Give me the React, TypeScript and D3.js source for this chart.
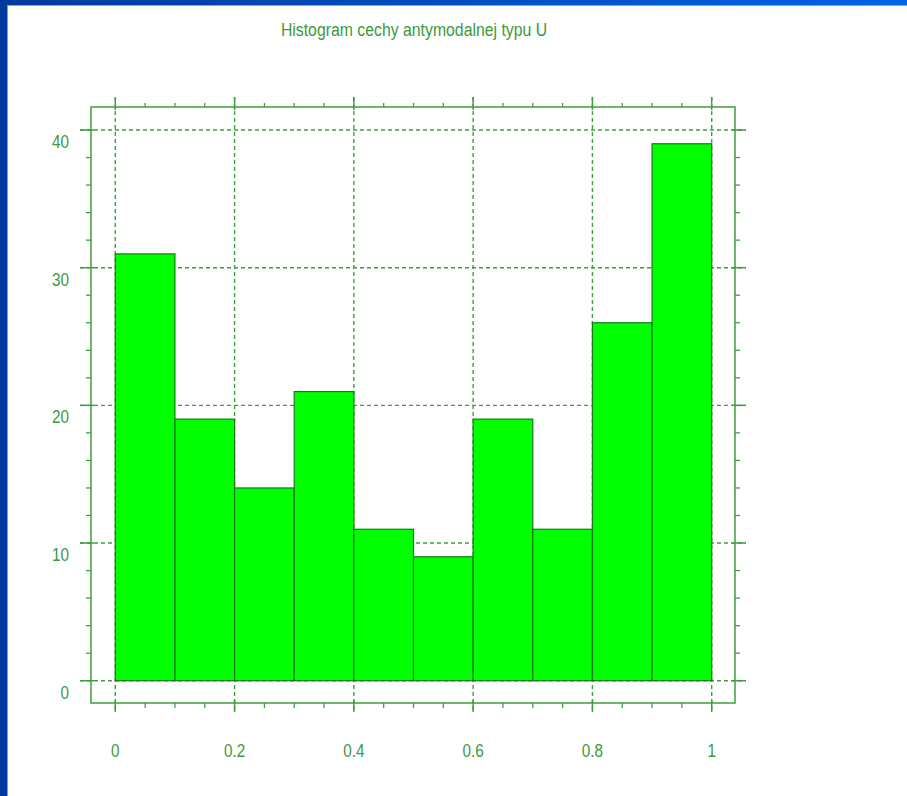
import React from "react";
import * as d3 from "d3";

const title = "Histogram cechy antymodalnej typu U";
const binEdges = [0, 0.1, 0.2, 0.3, 0.4, 0.5, 0.6, 0.7, 0.8, 0.9, 1.0];
const counts = [31, 19, 14, 21, 11, 9, 19, 11, 26, 39];
const xTicks = [0, 0.2, 0.4, 0.6, 0.8, 1];
const xTickLabels = ["0", "0.2", "0.4", "0.6", "0.8", "1"];
const yTicks = [0, 10, 20, 30, 40];
const yTickLabels = ["0", "10", "20", "30", "40"];

const W = 907;
const H = 796;
const frame = { l: 91, t: 107, r: 735, b: 703 };
const axisCol = "#3f9f3f";
const textCol = "#3c9a3c";
const font = "'Liberation Sans', Arial, sans-serif";

export default function App() {
  const x = d3.scaleLinear().domain([0, 1]).range([115.3, 711.7]);
  const y = d3.scaleLinear().domain([0, 40]).range([680.7, 130]);
  const xMinor = d3.range(0, 1.0001, 0.05);
  const yMinor = d3.range(0, 40.001, 2);
  const bins = counts.map((c, i) => ({ x0: binEdges[i], x1: binEdges[i + 1], c }));

  return (
    <div style={{ position: "fixed", left: 0, top: 0, width: W, height: H, margin: 0 }}>
      <svg width={W} height={H} style={{ display: "block" }}>
        <defs>
          <linearGradient id="topbar" x1="0" x2="1" y1="0" y2="0">
            <stop offset="0" stopColor="#003a9c" />
            <stop offset="1" stopColor="#0063e6" />
          </linearGradient>
        </defs>
        <rect x={0} y={0} width={W} height={H} fill="#ffffff" />
        <rect x={0} y={0} width={W} height={5} fill="url(#topbar)" />
        <rect x={0} y={5} width={W} height={1} fill="#7fa8e8" />
        <rect x={0} y={0} width={7} height={H} fill="#003a9c" />
        <rect x={7} y={5} width={1} height={H} fill="#7f9cd0" />

        <g transform={`translate(414,36) scale(0.93,1.05)`}>
          <text textAnchor="middle" fontFamily={font} fontSize={17} fill={textCol}>{title}</text>
        </g>

        {/* grid */}
        {yTicks.map((t) => (
          <line key={"gy" + t} x1={80} x2={746} y1={y(t)} y2={y(t)} stroke={axisCol} strokeWidth={1.4} strokeDasharray="4,3" />
        ))}
        {xTicks.map((t) => (
          <line key={"gx" + t} x1={x(t)} x2={x(t)} y1={97} y2={712} stroke={axisCol} strokeWidth={1.4} strokeDasharray="4,3" />
        ))}

        {/* bars */}
        {bins.map((b, i) => (
          <rect key={"b" + i} x={x(b.x0)} y={y(b.c)} width={x(b.x1) - x(b.x0)} height={y(0) - y(b.c)}
            fill="#00ff00" stroke="#157a15" strokeWidth={1.2} />
        ))}

        {/* frame */}
        <rect x={frame.l} y={frame.t} width={frame.r - frame.l} height={frame.b - frame.t} fill="none" stroke={axisCol} strokeWidth={1.5} />

        {/* y major ticks */}
        {yTicks.map((t) => (
          <g key={"ym" + t}>
            <line x1={80} x2={94} y1={y(t)} y2={y(t)} stroke={axisCol} strokeWidth={1.5} />
            <line x1={732} x2={746} y1={y(t)} y2={y(t)} stroke={axisCol} strokeWidth={1.5} />
          </g>
        ))}
        {yMinor.filter((t) => t % 10 !== 0).map((t) => (
          <g key={"yn" + t}>
            <line x1={86} x2={91} y1={y(t)} y2={y(t)} stroke={axisCol} strokeWidth={1.3} />
            <line x1={735} x2={740} y1={y(t)} y2={y(t)} stroke={axisCol} strokeWidth={1.3} />
          </g>
        ))}
        {xTicks.map((t) => (
          <g key={"xm" + t}>
            <line x1={x(t)} x2={x(t)} y1={97} y2={110} stroke={axisCol} strokeWidth={1.5} />
            <line x1={x(t)} x2={x(t)} y1={700} y2={712} stroke={axisCol} strokeWidth={1.5} />
          </g>
        ))}
        {xMinor.filter((_, i) => i % 4 !== 0).map((t) => (
          <g key={"xn" + t}>
            <line x1={x(t)} x2={x(t)} y1={103} y2={107} stroke={axisCol} strokeWidth={1.3} />
            <line x1={x(t)} x2={x(t)} y1={703} y2={708} stroke={axisCol} strokeWidth={1.3} />
          </g>
        ))}

        {/* labels */}
        {yTicks.map((t, i) => (
          <g key={"yl" + t} transform={`translate(69,${y(t) + 18}) scale(0.85,1)`}>
            <text textAnchor="end" fontFamily={font} fontSize={18} fill={textCol}>{yTickLabels[i]}</text>
          </g>
        ))}
        {xTicks.map((t, i) => (
          <g key={"xl" + t} transform={`translate(${x(t)},757) scale(0.85,1)`}>
            <text textAnchor="middle" fontFamily={font} fontSize={18} fill={textCol}>{xTickLabels[i]}</text>
          </g>
        ))}
      </svg>
    </div>
  );
}
